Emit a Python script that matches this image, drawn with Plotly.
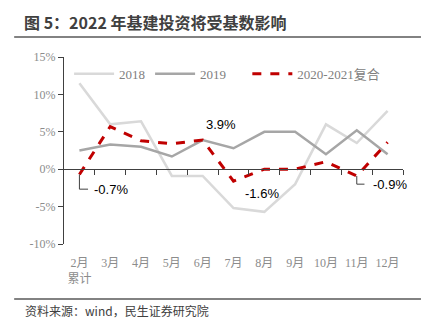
import plotly.graph_objects as go

months = ["2月<br>累计", "3月", "4月", "5月", "6月", "7月", "8月", "9月", "10月", "11月", "12月"]
s2018 = [11.5, 6.0, 6.4, -0.9, -0.9, -5.2, -5.7, -2.0, 6.0, 3.5, 7.8]
s2019 = [2.5, 3.3, 3.0, 1.7, 3.9, 2.8, 5.0, 5.0, 2.0, 5.2, 2.0]
s2021 = [-0.7, 5.7, 3.8, 3.4, 3.9, -1.6, 0.0, 0.0, 1.0, -0.9, 3.6]
yticks = [-10, -5, 0, 5, 10, 15]

x = list(range(len(months)))
fig = go.Figure()
fig.add_trace(go.Scatter(x=x, y=s2018, mode="lines", name="2018",
                         line=dict(color="#d9d9d9", width=2.5)))
fig.add_trace(go.Scatter(x=x, y=s2019, mode="lines", name="2019" + "\u00a0" * 5,
                         line=dict(color="#a6a6a6", width=2.5)))
fig.add_trace(go.Scatter(x=x, y=s2021, mode="lines", name="2020-2021复合",
                         line=dict(color="#c00000", width=3, dash="dash")))
# axis at zero with boundary ticks
fig.add_trace(go.Scatter(x=[-0.5, 10.5], y=[0, 0], xaxis="x2", mode="lines",
                         line=dict(width=0), showlegend=False, hoverinfo="skip"))

tick_font = dict(family="Liberation Serif, Noto Sans CJK SC", size=12, color="#8c8c8c")
lab_font = dict(family="Liberation Sans, Arial", size=13, color="#000000")

fig.update_layout(
    width=439, height=329,
    margin=dict(l=64, r=36, t=57, b=85),
    paper_bgcolor="white", plot_bgcolor="white",
    showlegend=True,
    legend=dict(orientation="h", x=0.015, y=0.99, xanchor="left", yanchor="top",
                font=dict(family="Liberation Serif, Noto Sans CJK SC", size=13, color="#808080"),
                bgcolor="rgba(0,0,0,0)", itemwidth=40, tracegroupgap=0),
    xaxis=dict(range=[-0.5, 10.5], tickvals=x, ticktext=months, showline=False,
               showgrid=False, zeroline=False, ticks="", tickfont=tick_font,
               ticklabelstandoff=10),
    xaxis2=dict(range=[-0.5, 10.5], overlaying="x", anchor="free", position=0.4,
                tickvals=[i + 0.5 for i in x], showticklabels=False, showgrid=False,
                zeroline=False, showline=True, linecolor="#404040", linewidth=1.2,
                ticks="outside", ticklen=5, tickcolor="#404040", tickwidth=1),
    yaxis=dict(range=[-10, 15], tickvals=yticks, ticktext=[f"{v}%" for v in yticks],
               showgrid=False, zeroline=False, showline=True, linecolor="#404040",
               linewidth=1.2, ticks="outside", ticklen=5, tickcolor="#404040",
               tickfont=tick_font),
)

# data labels
fig.add_annotation(x=4.6, y=6.0, text="3.9%", showarrow=False, font=lab_font)
fig.add_annotation(x=5.93, y=-3.3, text="-1.6%", showarrow=False, font=lab_font)
fig.add_annotation(x=0.42, y=-2.67, text="-0.7%", showarrow=False, font=lab_font, xanchor="left")
fig.add_annotation(x=9.45, y=-2.0, text="-0.9%", showarrow=False, font=lab_font, xanchor="left")
# leader lines
fig.add_shape(type="path", path=f"M 0,{s2021[0]} L 0,-2.67 L 0.28,-2.67",
              line=dict(color="#404040", width=1))
fig.add_shape(type="path", path=f"M 9,{s2021[9]} L 9,-2.0 L 9.25,-2.0",
              line=dict(color="#404040", width=1))

# title, rules, source
fig.add_annotation(xref="paper", yref="paper", x=-0.124, y=1.187, xanchor="left", yanchor="middle",
                   text="<b>图 5：2022 年基建投资将受基数影响</b>", showarrow=False,
                   font=dict(family="Noto Sans CJK SC", size=16, color="#404040"))
fig.add_shape(type="line", xref="paper", yref="paper", x0=-0.147, x1=1.053, y0=1.107, y1=1.107,
              line=dict(color="#595959", width=1.5))
fig.add_shape(type="line", xref="paper", yref="paper", x0=-0.147, x1=1.053, y0=-0.294, y1=-0.294,
              line=dict(color="#595959", width=1.5))
fig.add_annotation(xref="paper", yref="paper", x=-0.121, y=-0.358, xanchor="left", yanchor="middle",
                   text="资料来源：wind，民生证券研究院", showarrow=False,
                   font=dict(family="Noto Sans CJK SC", size=12, color="#404040"))

fig.write_html("out.html")
